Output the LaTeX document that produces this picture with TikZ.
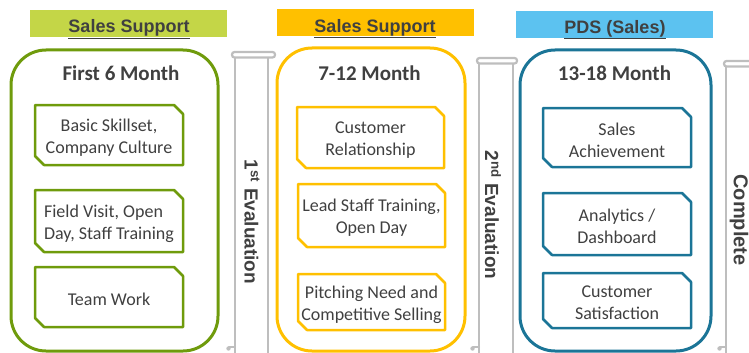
\documentclass[tikz,border=0pt]{standalone}
\usepackage{fontspec}
\setmainfont{Carlito}
\newfontfamily\headfont{Liberation Sans}
\definecolor{greenhead}{HTML}{C4D647}
\definecolor{greenline}{HTML}{6F9B0C}
\definecolor{yellowline}{HTML}{FFC000}
\definecolor{bluehead}{HTML}{5CC2F0}
\definecolor{blueline}{HTML}{1B7597}
\definecolor{pillargray}{HTML}{BEBEBE}
\definecolor{txt}{HTML}{404040}

% item box with the top-right and bottom-left corners cut off
\newcommand{\itembox}[8][]{%
  \draw[itemline, draw=#7] (#3,#4) -- ({#5-9},#4) -- (#5,{#4+9}) -- (#5,#6)
        -- ({#3+9},#6) -- (#3,{#6-9}) -- cycle;
  \node[item,#1] (#2) at ({(#3+#5)/2},{(#4+#6)/2}) {#8};
}

% evaluation pillar: body, rounded top cap and bottom-left curl
\newcommand{\pillar}[5]{% left, right, cap left, cap right, cap top
  \draw[pillarline] (#1,{#5+5}) -- (#1,360);
  \draw[pillarline] (#2,{#5+5}) -- (#2,360);
  \draw[pillarline, rounded corners=2.5pt] (#3,#5) rectangle (#4,{#5+5.5});
  \draw[pillarline, line cap=round] (#1,347) -- ({#1-6},347);
  \fill[pillargray] ({#1-6.5},348.5) circle (2.2);
}

\begin{document}
\begin{tikzpicture}[x=1pt,y=-1pt,
  headbox/.style={minimum width=197pt, minimum height=27pt, inner sep=0pt},
  headtext/.style={anchor=base, inner sep=0pt,
    font=\headfont\bfseries\fontsize{18}{20}\selectfont, text=txt},
  bigbox/.style={draw, line width=3pt, rounded corners=35pt, inner sep=0pt},
  title/.style={anchor=base, inner sep=0pt, font=\bfseries\fontsize{21}{24}\selectfont, text=txt},
  item/.style={font=\fontsize{18}{22}\selectfont, text=txt, align=center, inner sep=0pt, yshift=-2.5pt},
  itemline/.style={line width=2.5pt, line join=round},
  pillarline/.style={draw=pillargray, line width=2.2pt},
  evaltext/.style={font=\headfont\bfseries\fontsize{19}{21}\selectfont, text=txt, rotate=-90}]
\useasboundingbox (0,0) rectangle (749,353);
\clip (0,0) rectangle (749,353);

% column headers
\node[headbox, fill=greenhead] (h1) at (128.5,23.5) {};
\node[headbox, fill=yellowline] (h2) at (375,23) {};
\node[headbox, fill=bluehead] (h3) at (614.5,24.5) {};
\node[headtext] (h1t) at (129,33) {\underline{Sales Support}};
\node[headtext] (h2t) at (375,32.5) {\underline{Sales Support}};
\node[headtext] (h3t) at (615,33.5) {\underline{PDS (Sales)}};

% stage frames
\node[bigbox, draw=greenline, minimum width=207pt, minimum height=301pt] (c1) at (114.5,200.5) {};
\node[bigbox, draw=yellowline, minimum width=188pt, minimum height=303pt] (c2) at (371,199.5) {};
\node[bigbox, draw=blueline, minimum width=191pt, minimum height=301pt] (c3) at (615.5,200.5) {};

\node[title] (t1) at (121,80) {First 6 Month};
\node[title] (t2) at (369.5,80) {7-12 Month};
\node[title] (t3) at (614.5,80.5) {13-18 Month};

% first six months
\itembox{g1}{35}{105}{183}{165}{greenline}{Basic Skillset,\\Company Culture}
\itembox[align=left]{g2}{35}{190}{183}{252}{greenline}{Field Visit, Open\\Day, Staff Training}
\itembox{g3}{35}{267}{183}{327}{greenline}{Team Work}

% months 7-12
\itembox{y1}{297}{107}{444}{168}{yellowline}{Customer\\Relationship}
\itembox{y2}{298}{184}{445}{247}{yellowline}{Lead Staff Training,\\Open Day}
\itembox{y3}{298}{274}{445}{330}{yellowline}{Pitching Need and\\Competitive Selling}

% months 13-18
\itembox{b1}{543}{108}{691}{167}{blueline}{Sales\\Achievement}
\itembox{b2}{543}{193}{691}{255}{blueline}{Analytics /\\Dashboard}
\itembox{b3}{543}{273}{691}{328}{blueline}{Customer\\Satisfaction}

% evaluation pillars
\pillar{235}{268}{232}{275}{52}
\pillar{479}{513}{477}{517}{58}
\pillar{726}{762}{724}{766}{61}

\node[evaltext] (e1) at (252,222) {1\textsuperscript{st} Evaluation};
\node[evaltext] (e2) at (493,215) {2\textsuperscript{nd} Evaluation};
\node[evaltext, font=\headfont\bfseries\fontsize{20}{22}\selectfont] (e3) at (739,220) {Complete};
\end{tikzpicture}
\end{document}
